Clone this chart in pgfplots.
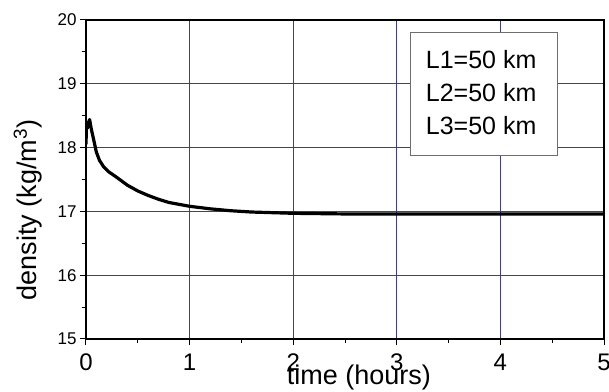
\documentclass[border=0pt]{standalone}
\usepackage{fontspec}
\setmainfont{Liberation Sans}
\usepackage{pgfplots}
\pgfplotsset{compat=1.18}
\definecolor{gridblue}{RGB}{60,60,155}
\definecolor{boxgray}{RGB}{110,110,110}

\begin{document}
\begin{tikzpicture}
\begin{axis}[
  scale only axis, width=518pt, height=319pt,
  xmin=0, xmax=5, ymin=15, ymax=20,
  xtick={0,1,2,3,4,5}, ytick={15,16,17,18,19,20},
  minor x tick num=1, minor y tick num=1,
  tick align=outside, xtick pos=bottom, ytick pos=left,
  major tick length=6pt, minor tick length=4pt,
  grid=major, major grid style={gridblue, line width=0.9pt},
  axis line style={line width=1.3pt},
  every tick/.style={black, line width=1pt},
  /pgf/number format/assume math mode=true,
  x tick label style={font=\fontsize{24}{24}\selectfont, yshift=-5pt},
  y tick label style={font=\fontsize{17}{17}\selectfont},
  xlabel={time (hours)},
  ylabel={density (kg/m\textsuperscript{3})},
  xlabel style={font=\fontsize{27}{27}\selectfont, at={(axis description cs:0.527,-0.1442)}, anchor=base},
  ylabel style={font=\fontsize{27}{27}\selectfont, at={(axis description cs:-0.0965,0.404)}, anchor=base},
]
\addplot[black, line width=3.2pt, line join=round] coordinates {
  (0,18.05) (0.005,18.38) (0.012,18.30) (0.025,18.40) (0.035,18.44)
  (0.05,18.30) (0.08,18.08) (0.10,17.93) (0.13,17.80) (0.17,17.70)
  (0.22,17.62) (0.30,17.53) (0.40,17.41) (0.50,17.32) (0.60,17.25)
  (0.70,17.19) (0.80,17.14) (0.90,17.11) (1.00,17.08) (1.20,17.04)
  (1.40,17.01) (1.60,16.99) (1.80,16.98) (2.00,16.97) (2.50,16.96)
  (3.00,16.96) (4.00,16.96) (5.00,16.96)
};
% parameter box
\draw[fill=white, draw=boxgray, line width=0.8pt]
  (axis cs:3.134,17.884) rectangle (axis cs:4.549,19.807);
\node[anchor=base west, font=\fontsize{25}{25}\selectfont, inner sep=0pt] at (axis cs:3.279,19.243) {L1=50 km};
\node[anchor=base west, font=\fontsize{25}{25}\selectfont, inner sep=0pt] at (axis cs:3.279,18.730) {L2=50 km};
\node[anchor=base west, font=\fontsize{25}{25}\selectfont, inner sep=0pt] at (axis cs:3.279,18.208) {L3=50 km};
\end{axis}
\pgfresetboundingbox
\path[use as bounding box] ([xshift=-86pt,yshift=-53pt]current axis.south west) rectangle ([xshift=5pt,yshift=20pt]current axis.north east);
\end{tikzpicture}
\end{document}
